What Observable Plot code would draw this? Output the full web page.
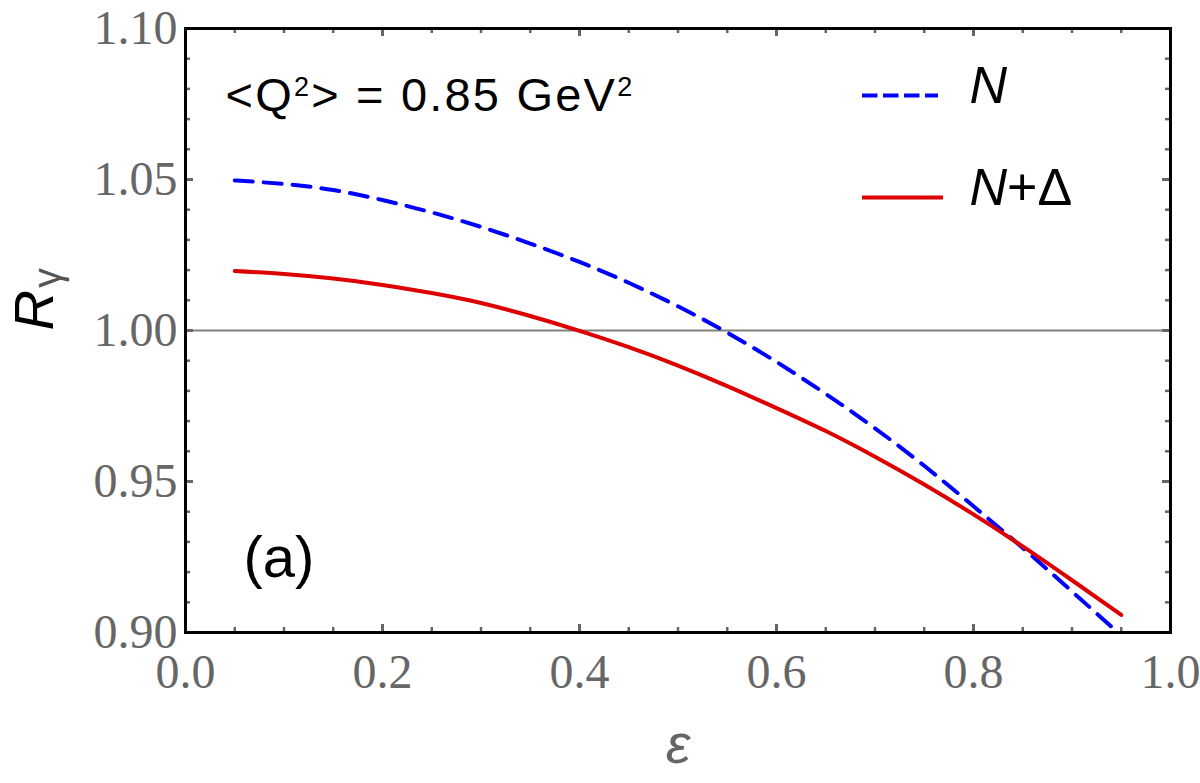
<!DOCTYPE html>
<html>
<head>
<meta charset="utf-8">
<script src="https://cdn.jsdelivr.net/npm/d3@7"></script>
<script src="https://cdn.jsdelivr.net/npm/@observablehq/plot@0.6"></script>
<style>
  html, body { margin: 0; padding: 0; background: #fff; }
  #chart { width: 1200px; height: 783px; }
</style>
</head>
<body>
<div id="chart"></div>
<script>
// ---- data ----
const epsilon = [0.05, 0.10, 0.15, 0.20, 0.25, 0.30, 0.35, 0.40, 0.45, 0.50,
                 0.55, 0.60, 0.65, 0.70, 0.75, 0.80, 0.85, 0.90, 0.95];
const rN      = [1.0497, 1.0485, 1.0465, 1.0432, 1.0391, 1.0343, 1.0288, 1.0227, 1.0158, 1.0080,
                 0.9993, 0.9896, 0.9790, 0.9676, 0.9552, 0.9418, 0.9280, 0.9136, 0.8990];
const rNDelta = [1.0197, 1.0187, 1.0172, 1.0151, 1.0124, 1.0091, 1.0048, 0.9999, 0.9945, 0.9884,
                 0.9816, 0.9743, 0.9667, 0.9582, 0.9490, 0.9391, 0.9285, 0.9173, 0.9058];
const seriesNames = ["N", "N+Δ"];
const xMajor = [0, 0.2, 0.4, 0.6, 0.8, 1.0];
const xMinor = [0.05, 0.1, 0.15, 0.25, 0.3, 0.35, 0.45, 0.5, 0.55, 0.65, 0.7, 0.75, 0.85, 0.9, 0.95];
const yMajor = [0.90, 0.95, 1.00, 1.05, 1.10];
const yMinor = [0.91, 0.92, 0.93, 0.94, 0.96, 0.97, 0.98, 0.99, 1.01, 1.02, 1.03, 1.04, 1.06, 1.07, 1.08, 1.09];
const gridY = [1.00];
const annotation = "<Q²> = 0.85 GeV²";
const panelLabel = "(a)";
const yLabel = "Rγ";
const xLabel = "ε";

// ---- layout ----
const W = 1200, H = 783;
const mTop = 28, mRight = 30, mBottom = 151, mLeft = 185;
const innerW = W - mLeft - mRight, innerH = H - mTop - mBottom;
const majLen = 8, minLen = 5;
const px2x = p => (p - mLeft) / innerW;             // pixel -> data helpers for legend layout
const px2y = p => 1.10 - (p - mTop) / innerH * 0.20;

const curveN = epsilon.map((e, i) => ({eps: e, R: rN[i]}));
const curveND = epsilon.map((e, i) => ({eps: e, R: rNDelta[i]}));

const tickStyle = {stroke: "#666"};
const sans = "Liberation Sans, Arial, sans-serif";
const serif = "Liberation Serif, Times New Roman, serif";

const plot = Plot.plot({
  width: W, height: H,
  marginTop: mTop, marginRight: mRight, marginBottom: mBottom, marginLeft: mLeft,
  style: {background: "#fff", fontFamily: sans},
  x: {domain: [0, 1]},
  y: {domain: [0.90, 1.10]},
  marks: [
    Plot.tickY(gridY, {y: d => d, stroke: "#808080", strokeWidth: 2}),
    // ticks (inward, all four sides)
    Plot.tickX(xMajor, {x: d => d, insetTop: innerH - majLen, strokeWidth: 3, ...tickStyle}),
    Plot.tickX(xMajor, {x: d => d, insetBottom: innerH - majLen, strokeWidth: 3, ...tickStyle}),
    Plot.tickX(xMinor, {x: d => d, insetTop: innerH - minLen, strokeWidth: 2.5, ...tickStyle}),
    Plot.tickX(xMinor, {x: d => d, insetBottom: innerH - minLen, strokeWidth: 2.5, ...tickStyle}),
    Plot.tickY(yMajor, {y: d => d, insetRight: innerW - majLen, strokeWidth: 3, ...tickStyle}),
    Plot.tickY(yMajor, {y: d => d, insetLeft: innerW - majLen, strokeWidth: 3, ...tickStyle}),
    Plot.tickY(yMinor, {y: d => d, insetRight: innerW - minLen, strokeWidth: 2.5, ...tickStyle}),
    Plot.tickY(yMinor, {y: d => d, insetLeft: innerW - minLen, strokeWidth: 2.5, ...tickStyle}),
    // curves
    Plot.line(curveN, {x: "eps", y: "R", stroke: "#0000ff", strokeWidth: 4, strokeDasharray: "18,11",
                       curve: "natural", clip: true}),
    Plot.line(curveND, {x: "eps", y: "R", stroke: "#dd0000", strokeWidth: 4, curve: "natural", clip: true}),
    // frame
    Plot.frame({stroke: "#000", strokeWidth: 3}),
    // axes
    Plot.axisX({ticks: xMajor, tickFormat: d3.format(".1f"), tickSize: 0, tickPadding: 21,
                fontSize: 48, fontFamily: serif, color: "#666", label: null}),
    Plot.axisY({ticks: yMajor, tickFormat: d3.format(".2f"), tickSize: 0, tickPadding: 8,
                fontSize: 48, fontFamily: serif, color: "#666", label: null}),
    // axis titles
    Plot.text([xLabel], {text: d => d, frameAnchor: "bottom", lineAnchor: "middle", dy: 113, fontSize: 56,
                         fontStyle: "italic", fill: "#666", fontFamily: sans}),
    Plot.text([yLabel], {text: d => d, frameAnchor: "left", lineAnchor: "middle", dx: -150, rotate: -90,
                         fontSize: 56, fill: "#000", fontFamily: sans}),
    // annotations
    Plot.text([annotation], {text: d => d, frameAnchor: "top-left", lineAnchor: "middle", textAnchor: "start",
                             dx: 40, dy: 67, fontSize: 47, fill: "#000", fontFamily: sans}),
    Plot.text([panelLabel], {text: d => d, frameAnchor: "top-left", lineAnchor: "middle", textAnchor: "start",
                             dx: 58, dy: 530, fontSize: 58, fill: "#000", fontFamily: sans}),
    // legend
    Plot.ruleY([px2y(95)], {x1: px2x(862), x2: px2x(938), stroke: "#0000ff", strokeWidth: 4, strokeDasharray: "15.5,5.5"}),
    Plot.ruleY([px2y(197)], {x1: px2x(862), x2: px2x(943), stroke: "#dd0000", strokeWidth: 4}),
    Plot.text([seriesNames[0]], {text: d => d, frameAnchor: "top-left", lineAnchor: "middle", textAnchor: "start",
                                 dx: 784, dy: 58, fontSize: 52, fill: "#000", fontFamily: sans}),
    Plot.text([seriesNames[1]], {text: d => d, frameAnchor: "top-left", lineAnchor: "middle", textAnchor: "start",
                                 dx: 784, dy: 160, fontSize: 52, fill: "#000", fontFamily: sans})
  ]
});

// rich text (italic / super / sub) for specific labels
function rich(svg, key, parts) {
  d3.select(svg).selectAll("text").filter(function () { return this.textContent === key; })
    .each(function () {
      const t = d3.select(this);
      t.text(null);
      for (const p of parts) {
        const s = t.append("tspan").text(p.t);
        for (const [k, v] of Object.entries(p.a || {})) s.attr(k, v);
      }
    });
}
rich(plot, yLabel, [
  {t: "R", a: {"font-style": "italic"}},
  {t: "γ", a: {"font-size": 40, "fill": "#555", "dy": 8, "dx": 2}}
]);
rich(plot, annotation, [
  {t: "<Q"},
  {t: "2", a: {"font-size": 27, "dy": -15}},
  {t: "> = 0.85 GeV", a: {"dy": 15}},
  {t: "2", a: {"font-size": 27, "dy": -15}}
]);
rich(plot, seriesNames[0], [{t: "N", a: {"font-style": "italic"}}]);
rich(plot, seriesNames[1], [{t: "N", a: {"font-style": "italic"}}, {t: "+Δ"}]);
d3.select(plot).selectAll("text").filter(function () { return this.textContent.startsWith("<Q"); })
  .attr("letter-spacing", 2.2);

document.getElementById("chart").appendChild(plot);
</script>
</body>
</html>
